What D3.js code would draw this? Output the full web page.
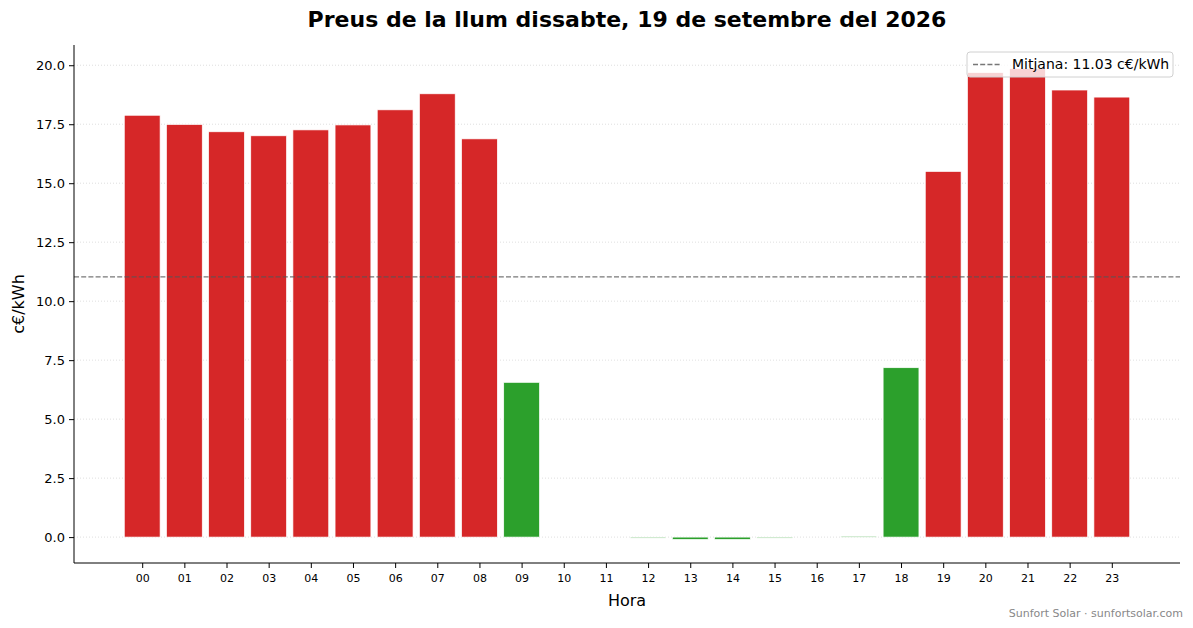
<!DOCTYPE html>
<html>
<head>
<meta charset="utf-8">
<script src="https://cdn.jsdelivr.net/npm/d3@7"></script>
<style>
  body { margin: 0; background: #fff; }
  text { font-family: "DejaVu Sans", sans-serif; }
</style>
</head>
<body>
<div class="chart"></div>
<script>
// hourly prices, c€/kWh
const hours = ['00','01','02','03','04','05','06','07','08','09','10','11',
               '12','13','14','15','16','17','18','19','20','21','22','23'];
const prices = [17.88, 17.49, 17.18, 17.01, 17.26, 17.47, 18.11, 18.79, 16.88, 6.56, 0.0, 0.0,
                -0.04, -0.1, -0.1, -0.04, 0.0, 0.04, 7.18, 15.50, 19.69, 19.86, 18.95, 18.65];
const mitjana = 11.03;
const yTicks = [0, 2.5, 5, 7.5, 10, 12.5, 15, 17.5, 20];

const W = 1193, H = 628;
const margin = {top: 45, right: 13, bottom: 65, left: 74};
const width = W - margin.left - margin.right;
const height = H - margin.top - margin.bottom;

const svg = d3.select('.chart').append('svg')
    .attr('width', W)
    .attr('height', H);

const g = svg.append('g')
    .attr('transform', `translate(${margin.left},${margin.top})`);

// matplotlib-like 5% margins around the data
const bw = 0.85;
const x0 = -bw / 2, x1 = hours.length - 1 + bw / 2;
const xPad = (x1 - x0) * 0.05;
const xScale = d3.scaleLinear()
    .domain([x0 - xPad, x1 + xPad])
    .range([0, width]);

const yMin = d3.min(prices), yMax = d3.max(prices);
const yPad = (yMax - yMin) * 0.05;
const yScale = d3.scaleLinear()
    .domain([yMin - yPad, yMax + yPad])
    .range([height, 0]);

// grid
g.append('g')
    .selectAll('line')
    .data(yTicks)
    .enter()
    .append('line')
    .attr('x1', 0)
    .attr('x2', width)
    .attr('y1', d => yScale(d))
    .attr('y2', d => yScale(d))
    .attr('stroke', '#b0b0b0')
    .attr('stroke-opacity', 0.5)
    .attr('stroke-dasharray', '1,2')
    .attr('stroke-width', 0.8);

// bars
g.append('g')
    .selectAll('rect')
    .data(prices)
    .enter()
    .append('rect')
    .attr('x', (d, i) => xScale(i - bw / 2))
    .attr('width', xScale(bw) - xScale(0))
    .attr('y', d => yScale(Math.max(0, d)))
    .attr('height', d => Math.abs(yScale(d) - yScale(0)))
    .attr('fill', d => d > mitjana ? '#d62728' : '#2ca02c')
    .attr('stroke', '#fff')
    .attr('stroke-width', 0.7);

// mean line
g.append('line')
    .attr('x1', 0)
    .attr('x2', width)
    .attr('y1', yScale(mitjana))
    .attr('y2', yScale(mitjana))
    .attr('stroke', '#555')
    .attr('stroke-opacity', 0.8)
    .attr('stroke-width', 1.4)
    .attr('stroke-dasharray', '5,2.2');

// axes
const xAxis = d3.axisBottom(xScale)
    .tickValues(d3.range(hours.length))
    .tickFormat(i => hours[i])
    .tickSize(5)
    .tickPadding(4);

const yAxis = d3.axisLeft(yScale)
    .tickValues(yTicks)
    .tickFormat(d3.format('.1f'))
    .tickSize(5)
    .tickPadding(4);

const gx = g.append('g')
    .attr('class', 'axis x-axis')
    .attr('transform', `translate(0,${height})`)
    .call(xAxis);
gx.select('.domain').attr('d', `M0,0H${width}`);
gx.selectAll('text').attr('font-size', 11).attr('fill', '#000').attr('dy', '0.9em');

const gy = g.append('g')
    .attr('class', 'axis y-axis')
    .call(yAxis);
gy.select('.domain').attr('d', `M0,0V${height}`);
gy.selectAll('text').attr('font-size', 13).attr('fill', '#000');

g.selectAll('.domain').attr('stroke', '#000').attr('stroke-width', 1);
g.selectAll('.tick line').attr('stroke', '#000');

// legend
const leg = g.append('g')
    .attr('transform', `translate(${width - 213},7)`);
leg.append('rect')
    .attr('width', 206)
    .attr('height', 25)
    .attr('rx', 3)
    .attr('fill', '#fff')
    .attr('fill-opacity', 0.8)
    .attr('stroke', '#d0d0d0');
leg.append('line')
    .attr('x1', 6).attr('x2', 34)
    .attr('y1', 12.5).attr('y2', 12.5)
    .attr('stroke', '#555')
    .attr('stroke-opacity', 0.8)
    .attr('stroke-width', 1.4)
    .attr('stroke-dasharray', '5,2.2');
leg.append('text')
    .attr('x', 45)
    .attr('y', 12.5)
    .attr('dy', '0.35em')
    .attr('font-size', 14)
    .text(`Mitjana: ${mitjana.toFixed(2)} c€/kWh`);

// labels
svg.append('text')
    .attr('x', margin.left + width / 2)
    .attr('y', 27)
    .attr('text-anchor', 'middle')
    .attr('font-size', 22)
    .attr('font-weight', 'bold')
    .text('Preus de la llum dissabte, 19 de setembre del 2026');

svg.append('text')
    .attr('x', margin.left + width / 2)
    .attr('y', 606)
    .attr('text-anchor', 'middle')
    .attr('font-size', 16)
    .text('Hora');

svg.append('text')
    .attr('transform', `translate(24,${margin.top + height / 2}) rotate(-90)`)
    .attr('text-anchor', 'middle')
    .attr('font-size', 16)
    .text('c€/kWh');

svg.append('text')
    .attr('x', 1183)
    .attr('y', 617)
    .attr('text-anchor', 'end')
    .attr('font-size', 11)
    .attr('fill', '#888')
    .text('Sunfort Solar · sunfortsolar.com');
</script>
</body>
</html>
